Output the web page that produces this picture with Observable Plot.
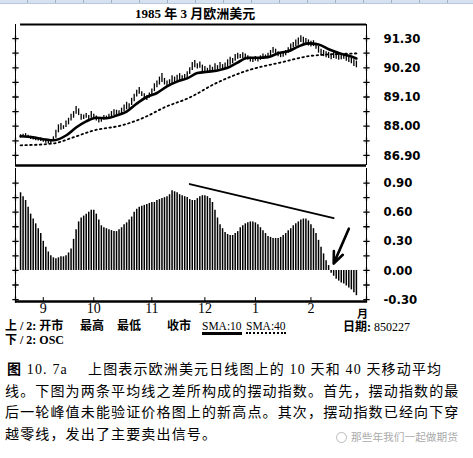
<!DOCTYPE html>
<html><head><meta charset="utf-8">
<script src="https://cdn.jsdelivr.net/npm/d3@7"></script>
<script src="https://cdn.jsdelivr.net/npm/@observablehq/plot@0.6"></script>
<style>
body{margin:0;background:#fff;width:473px;height:458px;overflow:hidden;position:relative;font-family:"Liberation Serif","Noto Sans CJK SC",serif;color:#000;}
.abs{position:absolute;white-space:nowrap;}
#ruler{position:absolute;left:0;top:0;width:473px;height:3px;background:#d6e2f0;border-bottom:1px solid #b8c8dc;
 background-image:repeating-linear-gradient(90deg,transparent 0 27px,#9fb2c8 27px 28px);}
.cap{position:absolute;left:5px;font-size:14px;line-height:20px;letter-spacing:1.15px;white-space:nowrap;font-family:"Liberation Serif","Noto Sans CJK SC",serif;}
.leg{position:absolute;font-size:12px;line-height:12px;white-space:nowrap;font-family:"Liberation Serif","Noto Sans CJK SC",serif;font-weight:bold;}
</style></head><body>
<div id="ruler"></div>
<div id="title" class="abs" style="left:135px;top:5px;font-size:13px;font-weight:bold;line-height:18px;">1985 年 3 月欧洲美元</div>
<div id="top" class="abs" style="left:0;top:18px"></div>
<div id="bot" class="abs" style="left:0;top:166px"></div>
<div class="abs" style="left:357px;top:308px;font-size:11px;line-height:11px;font-family:'Noto Sans CJK SC';font-weight:bold;">月</div>
<div class="leg" style="left:5px;top:320px;">上 / 2: 开市</div>
<div class="leg" style="left:80px;top:320px;">最高</div>
<div class="leg" style="left:117px;top:320px;">最低</div>
<div class="leg" style="left:167px;top:320px;">收市</div>
<div class="leg" style="left:202px;top:320px;font-weight:normal;font-size:11.5px;"><span style="border-bottom:3px solid #000;">SMA:10</span></div>
<div class="leg" style="left:246px;top:320px;font-weight:normal;font-size:11.5px;"><span style="border-bottom:2px dotted #000;">SMA:40</span></div>
<div class="leg" style="left:343px;top:321px;">日期: <span style="font-weight:normal">850227</span></div>
<div class="leg" style="left:5px;top:334px;">下 / 2: OSC</div>
<div class="cap" style="left:7px;top:360px;"><b>图</b> 10. 7a</div>
<div class="cap" style="left:88px;top:360px;">上图表示欧洲美元日线图上的 10 天和 40 天移动平均</div>
<div class="cap" style="top:382px;">线。下图为两条平均线之差所构成的摆动指数。首先，摆动指数的最</div>
<div class="cap" style="top:403px;">后一轮峰值未能验证价格图上的新高点。其次，摆动指数已经向下穿</div>
<div class="cap" style="top:425px;">越零线，发出了主要卖出信号。</div>
<div class="abs" style="left:336px;top:432px;width:9px;height:9px;border:1px solid #bbb;border-radius:50%;"></div>
<div class="abs" style="left:351px;top:430px;font-size:10.7px;line-height:14px;color:#aaa;font-family:'Noto Sans CJK SC';">那些年我们一起做期货</div>
<script>
// ---- data ----
const monthLabels = ["9", "10", "11", "12", "1", "2"];
const monthStartIdx = [9, 29, 52, 73, 93, 115];
const topTicks = [91.30, 90.20, 89.10, 88.00, 86.90];
const topTickLabels = ["91.30", "90.20", "89.10", "88.00", "86.90"];
const topMinor = [91.30, 90.75, 90.20, 89.65, 89.10, 88.55, 88.00, 87.45, 86.90];
const oscTicks = [0.90, 0.60, 0.30, 0.00, -0.30];
const oscTickLabels = ["0.90", "0.60", "0.30", "0.00", "-0.30"];
const oscMinor = [0.90, 0.75, 0.60, 0.45, 0.30, 0.15, 0.00, -0.15, -0.30];

const hi = [87.68,87.70,87.72,87.66,87.62,87.60,87.58,87.55,87.56,87.52,
87.50,87.48,87.45,87.60,87.85,88.05,88.10,88.02,88.20,88.30,
88.45,88.55,88.74,88.65,88.45,88.42,88.48,88.40,88.55,88.45,
88.38,88.25,88.32,88.40,88.38,88.45,88.55,88.62,88.60,88.58,
88.68,88.80,88.90,88.85,89.05,89.20,89.35,89.46,89.30,89.22,
89.15,89.25,89.40,89.60,89.70,89.85,89.98,89.80,89.70,89.75,
89.90,89.85,89.92,89.98,89.90,89.95,90.05,90.20,90.40,90.47,
90.35,90.42,90.30,90.25,90.18,90.30,90.22,90.35,90.28,90.40,
90.32,90.38,90.50,90.60,90.55,90.70,90.75,90.70,90.77,90.72,
90.65,90.60,90.55,90.62,90.58,90.65,90.72,90.68,90.75,90.85,
90.96,90.90,90.80,90.72,90.78,90.85,90.95,91.10,91.15,91.25,
91.32,91.41,91.35,91.30,91.25,91.20,91.22,91.12,91.00,90.90,
90.85,90.80,90.78,90.72,90.80,90.75,90.70,90.68,90.72,90.65,
90.60,90.55,90.50,90.45];
const lo = [87.55,87.58,87.60,87.55,87.50,87.48,87.45,87.44,87.42,87.40,
87.36,87.33,87.35,87.42,87.55,87.75,87.85,87.88,87.95,88.05,
88.20,88.30,88.45,88.40,88.22,88.25,88.30,88.22,88.30,88.28,
88.20,88.12,88.15,88.22,88.25,88.28,88.35,88.40,88.42,88.40,
88.45,88.55,88.62,88.65,88.78,88.92,89.10,89.20,89.12,89.02,
88.97,89.05,89.15,89.30,89.45,89.55,89.65,89.55,89.48,89.50,
89.60,89.62,89.68,89.72,89.70,89.75,89.80,89.95,90.10,90.20,
90.15,90.18,90.05,90.00,89.98,90.05,90.02,90.10,90.08,90.15,
90.12,90.15,90.22,90.30,90.35,90.45,90.52,90.55,90.55,90.50,
90.48,90.42,90.40,90.45,90.42,90.48,90.52,90.55,90.58,90.65,
90.75,90.72,90.62,90.58,90.60,90.65,90.75,90.85,90.95,91.00,
91.05,91.15,91.12,91.08,91.02,90.98,91.00,90.90,90.75,90.65,
90.62,90.58,90.55,90.50,90.55,90.52,90.48,90.50,90.52,90.45,
90.40,90.35,90.25,90.20];

const sma10Idx = [0,5,10,13,18,22,26,30,34,38,42,46,50,54,58,62,66,70,74,78,82,86,90,94,98,102,106,110,114,118,122,126,130,133];
const sma10Val = [87.62,87.58,87.50,87.47,87.65,87.95,88.18,88.32,88.30,88.40,88.55,88.85,89.10,89.25,89.50,89.68,89.80,90.00,90.05,90.10,90.20,90.40,90.58,90.58,90.60,90.75,90.82,91.00,91.12,91.08,90.90,90.76,90.65,90.55];
const sma40Idx = [0,13,20,29,40,49,57,67,77,90,103,116,133];
const sma40Val = [87.28,87.35,87.55,87.84,88.03,88.33,88.71,89.08,89.60,90.10,90.40,90.66,90.74];

const osc = [0.80,0.76,0.72,0.65,0.58,0.53,0.48,0.43,0.38,0.30,
0.24,0.19,0.15,0.13,0.12,0.13,0.14,0.14,0.15,0.18,
0.22,0.32,0.42,0.50,0.54,0.56,0.58,0.60,0.62,0.62,
0.58,0.52,0.46,0.44,0.43,0.42,0.41,0.40,0.40,0.42,
0.44,0.47,0.49,0.52,0.55,0.60,0.63,0.65,0.66,0.67,
0.68,0.69,0.70,0.70,0.72,0.73,0.74,0.75,0.76,0.78,
0.82,0.81,0.80,0.78,0.77,0.76,0.75,0.73,0.72,0.72,
0.74,0.76,0.77,0.77,0.76,0.74,0.70,0.62,0.54,0.47,
0.43,0.39,0.37,0.36,0.36,0.38,0.40,0.44,0.46,0.48,
0.49,0.50,0.50,0.49,0.47,0.44,0.41,0.38,0.35,0.34,
0.33,0.33,0.33,0.34,0.36,0.38,0.41,0.43,0.46,0.48,
0.50,0.52,0.53,0.53,0.51,0.47,0.43,0.38,0.31,0.24,
0.17,0.10,0.05,-0.03,-0.06,-0.09,-0.11,-0.13,-0.14,-0.16,
-0.18,-0.20,-0.23,-0.26];

const trendIdx = [67, 124];
const trendVal = [0.89, 0.54];
const arrowFrom = {i: 130, v: 0.43};
const arrowTo = {i: 124, v: 0.07};

// ---- build ----
const days = d3.range(hi.length);
const xDomain = [-2, 137];
const yTopDomain = [86.52, 91.83];
const yOscDomain = [-0.32, 1.05];
const sma10 = sma10Idx.map((i, k) => ({i, v: sma10Val[k]}));
const sma40 = sma40Idx.map((i, k) => ({i, v: sma40Val[k]}));
const trend = trendIdx.map((i, k) => ({i, v: trendVal[k]}));
const months = monthStartIdx.map((i, k) => ({i, label: monthLabels[k]}));
const topLab = new Map(topTicks.map((v, k) => [v, topTickLabels[k]]));
const oscLab = new Map(oscTicks.map((v, k) => [v, oscTickLabels[k]]));
const numFont = {fontFamily: "DejaVu Sans Condensed, DejaVu Sans", fontWeight: "bold", fontSize: 13};

const topPlot = Plot.plot({
  width: 473, height: 150, marginLeft: 15, marginRight: 107, marginTop: 6, marginBottom: 3,
  x: {domain: xDomain, axis: null},
  y: {domain: yTopDomain, axis: null},
  style: {background: "transparent", overflow: "visible"},
  marks: [
    Plot.ruleX(days, {x: d => d, y1: d => lo[d], y2: d => hi[d], strokeWidth: 1.3}),
    Plot.line(sma10, {x: "i", y: "v", strokeWidth: 2.6, curve: "monotone-x"}),
    Plot.line(sma40, {x: "i", y: "v", strokeWidth: 1.8, strokeDasharray: "1.6,3.2", curve: "monotone-x"}),
    Plot.ruleY([yTopDomain[1]], {x1: 0, x2: 137, strokeWidth: 2.2}),
    Plot.ruleY([yTopDomain[0]], {strokeWidth: 2.6}),
    Plot.ruleX([xDomain[0], xDomain[1]], {strokeWidth: 1}),
    Plot.dot(topMinor, {y: d => d, frameAnchor: "left", symbol: "plus", r: 2.2, strokeWidth: 1.3}),
    Plot.dot(topMinor, {y: d => d, frameAnchor: "right", symbol: "plus", r: 2.2, strokeWidth: 1.3}),
    Plot.text(topTicks, {y: d => d, text: d => topLab.get(d), frameAnchor: "right", dx: 17, textAnchor: "start", ...numFont})
  ]
});
document.getElementById("top").appendChild(topPlot);

const botPlot = Plot.plot({
  width: 473, height: 159, marginLeft: 15, marginRight: 107, marginTop: 2, marginBottom: 24,
  x: {domain: xDomain, axis: null},
  y: {domain: yOscDomain, axis: null},
  style: {background: "transparent", overflow: "visible"},
  marks: [
    Plot.ruleX(days, {x: d => d, y1: 0, y2: d => osc[d], strokeWidth: 1.5}),
    Plot.line(trend, {x: "i", y: "v", strokeWidth: 1.8}),
    Plot.arrow([{a: arrowFrom, b: arrowTo}], {x1: d => d.a.i, y1: d => d.a.v, x2: d => d.b.i, y2: d => d.b.v, strokeWidth: 2.6, headLength: 16, headAngle: 45}),
    Plot.ruleY([yOscDomain[0]], {strokeWidth: 2.6}),
    Plot.ruleX([xDomain[0], xDomain[1]], {strokeWidth: 1}),
    Plot.ruleX(months, {x: "i", y1: yOscDomain[0], y2: -0.28, strokeWidth: 1}),
    Plot.dot(oscMinor, {y: d => d, frameAnchor: "left", symbol: "plus", r: 2.2, strokeWidth: 1.3}),
    Plot.dot(oscMinor, {y: d => d, frameAnchor: "right", symbol: "plus", r: 2.2, strokeWidth: 1.3}),
    Plot.text(oscTicks, {y: d => d, text: d => oscLab.get(d), frameAnchor: "right", dx: 17, textAnchor: "start", ...numFont}),
    Plot.text(months, {x: "i", text: "label", frameAnchor: "bottom", dy: 11, fontSize: 14, fontFamily: "Liberation Serif"})
  ]
});
document.getElementById("bot").appendChild(botPlot);
</script>
</body></html>
